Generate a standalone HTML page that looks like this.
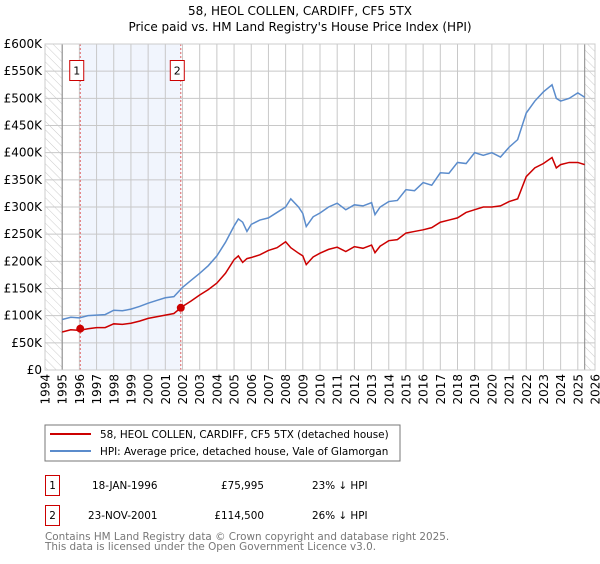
<!DOCTYPE html>
<html><head><meta charset="utf-8"><style>
body{margin:0;background:#fff;font-family:"DejaVu Sans","Liberation Sans",sans-serif;}
svg text{font-family:"DejaVu Sans","Liberation Sans",sans-serif;}
</style></head><body>
<svg id="c" width="600" height="560" viewBox="0 0 600 560" xmlns="http://www.w3.org/2000/svg">
<defs><pattern id="hatch" width="6" height="6" patternUnits="userSpaceOnUse" patternTransform="rotate(-45)"><line x1="0" y1="0" x2="0" y2="6" stroke="#ccc" stroke-width="1"/></pattern></defs>
<text x="300" y="15" text-anchor="middle" font-size="12">58, HEOL COLLEN, CARDIFF, CF5 5TX</text>
<text x="300" y="31" text-anchor="middle" font-size="12">Price paid vs. HM Land Registry's House Price Index (HPI)</text>
<g id="plot"></g>
<rect x="45" y="425" width="355" height="36" fill="#fff" stroke="#777"/>
<line x1="50" y1="434" x2="91" y2="434" stroke="#cc0000" stroke-width="2"/>
<text x="100" y="438" font-size="10.4">58, HEOL COLLEN, CARDIFF, CF5 5TX (detached house)</text>
<line x1="50" y1="451" x2="91" y2="451" stroke="#5b8ccc" stroke-width="2"/>
<text x="100" y="455" font-size="10.4">HPI: Average price, detached house, Vale of Glamorgan</text>
<rect x="45.5" y="475.5" width="14" height="20" fill="#fff" stroke="#cc0000"/>
<text x="52.5" y="489" font-size="10.4" text-anchor="middle">1</text>
<text x="92" y="489" font-size="10.4">18-JAN-1996</text>
<text x="264" y="489" font-size="10.4" text-anchor="end">£75,995</text>
<text x="312" y="489" font-size="10.4">23% ↓ HPI</text>
<rect x="45.5" y="505.5" width="14" height="20" fill="#fff" stroke="#cc0000"/>
<text x="52.5" y="519" font-size="10.4" text-anchor="middle">2</text>
<text x="88" y="519" font-size="10.4">23-NOV-2001</text>
<text x="264" y="519" font-size="10.4" text-anchor="end">£114,500</text>
<text x="312" y="519" font-size="10.4">26% ↓ HPI</text>
<text x="45" y="540" font-size="10.4" fill="#777">Contains HM Land Registry data © Crown copyright and database right 2025.</text>
<text x="45" y="550" font-size="10.4" fill="#777">This data is licensed under the Open Government Licence v3.0.</text>
</svg>
<script>
const years=[1995,1995.5,1996,1996.5,1997,1997.5,1998,1998.5,1999,1999.5,2000,2000.5,2001,2001.5,2002,2002.5,2003,2003.5,2004,2004.5,2005,2005.25,2005.5,2005.75,2006,2006.5,2007,2007.5,2008,2008.3,2008.75,2009,2009.2,2009.6,2010,2010.5,2011,2011.5,2012,2012.5,2013,2013.2,2013.5,2014,2014.5,2015,2015.5,2016,2016.5,2017,2017.5,2018,2018.5,2019,2019.5,2020,2020.5,2021,2021.5,2022,2022.5,2023,2023.5,2023.75,2024,2024.5,2025,2025.4];
const hpiValues=[93,97,96,100,101,102,110,109,112,117,123,128,133,135,152,165,178,192,210,235,265,278,272,255,268,276,280,290,300,315,300,288,264,282,289,300,307,295,304,302,308,286,300,310,312,332,330,345,340,363,362,382,380,400,395,400,392,410,424,473,495,512,525,500,495,500,510,502];
const ppValues=[70,74,73,76,78,78,85,84,86,90,95,98,101,104,117,127,138,148,160,178,203,210,198,205,207,212,220,225,236,225,215,210,194,208,215,222,226,218,227,224,230,216,228,238,240,252,255,258,262,272,276,280,290,295,300,300,302,310,315,356,372,380,391,372,378,382,382,378];
const saleYears=[1996.05,2001.9];
const salePrices=[75.995,114.5];
const yTicks=[0,50,100,150,200,250,300,350,400,450,500,550,600];
const yTickLabels=["£0","£50K","£100K","£150K","£200K","£250K","£300K","£350K","£400K","£450K","£500K","£550K","£600K"];
const xTickYears=[1994,1995,1996,1997,1998,1999,2000,2001,2002,2003,2004,2005,2006,2007,2008,2009,2010,2011,2012,2013,2014,2015,2016,2017,2018,2019,2020,2021,2022,2023,2024,2025,2026];
const L=45,R=595,T=44,B=370;
const X=y=>L+(y-1994)/32*(R-L);
const Y=v=>B-v/600*(B-T);
const NS="http://www.w3.org/2000/svg";
const g=document.getElementById('plot');
function mk(t,a,p){const e=document.createElementNS(NS,t);for(const k in a)e.setAttribute(k,a[k]);(p||g).appendChild(e);return e;}
let e;
e=mk('rect',{x:X(saleYears[0]),y:T,width:X(saleYears[1])-X(saleYears[0]),height:B-T,fill:'#eef3fc',opacity:0.8});


e=mk('rect',{x:L,y:T,width:X(1995)-L,height:B-T,fill:'url(#hatch)'});


e=mk('rect',{x:X(2025.4),y:T,width:R-X(2025.4),height:B-T,fill:'url(#hatch)'});


yTicks.forEach((v,i)=>{
 e=mk('line',{x1:L,x2:R,y1:Y(v),y2:Y(v),stroke:'#c8c8c8','stroke-width':1});
 
 
 e=mk('text',{x:L-3,y:Y(v)+4,'text-anchor':'end','font-size':12});
 e.textContent=yTickLabels[i];
 
 
});
xTickYears.forEach(yr=>{
 e=mk('line',{x1:X(yr),x2:X(yr),y1:T,y2:B,stroke:'#c8c8c8','stroke-width':1});
 
 
 e=mk('text',{x:X(yr)+4.5,y:B+4,'text-anchor':'end','font-size':12,transform:`rotate(-90 ${X(yr)+4.5} ${B+4})`});
 e.textContent=yr;
 
 
});
e=mk('line',{x1:X(1995),x2:X(1995),y1:T,y2:B,stroke:'#888'});


e=mk('line',{x1:X(2025.4),x2:X(2025.4),y1:T,y2:B,stroke:'#888'});


saleYears.forEach((s,i)=>{
 e=mk('line',{x1:X(s),x2:X(s),y1:T,y2:B,stroke:'#e06060','stroke-dasharray':'2,2'});
 
 
 e=mk('rect',{x:X(s)-10.5,y:60.5,width:14,height:20,fill:'#fff',stroke:'#cc0000'});
 
 
 e=mk('text',{x:X(s)-3.5,y:74.5,'text-anchor':'middle','font-size':11});
 e.textContent=String(i+1);
 
 
});
e=mk('polyline',{points:years.map((y,i)=>X(y)+','+Y(hpiValues[i])).join(' '),fill:'none',stroke:'#5b8ccc','stroke-width':1.5});


e=mk('polyline',{points:years.map((y,i)=>X(y)+','+Y(ppValues[i])).join(' '),fill:'none',stroke:'#cc0000','stroke-width':1.5});


saleYears.forEach((s,i)=>{
 e=mk('circle',{cx:X(s),cy:Y(salePrices[i]),r:4,fill:'#cc0000'});
 
 
});
e=mk('rect',{x:L,y:T,width:R-L,height:B-T,fill:'none',stroke:'#ccc'});


</script>
</body></html>
